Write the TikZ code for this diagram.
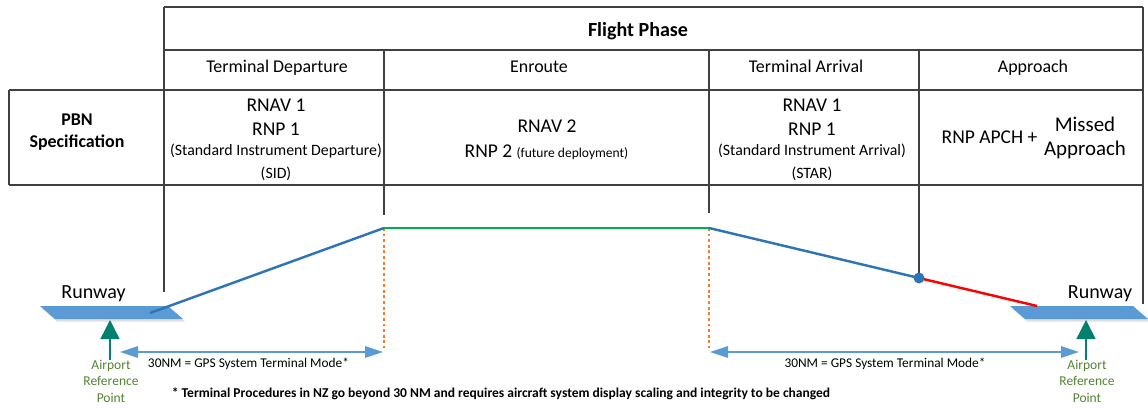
\documentclass[tikz,border=0pt]{standalone}
\usepackage{fontspec}
\setmainfont{Carlito}
\usepackage{tikz}
\usetikzlibrary{shadows,arrows.meta}

\definecolor{gridgray}{HTML}{404040}
\definecolor{pathblue}{HTML}{2E75B6}
\definecolor{pathgreen}{HTML}{00B050}
\definecolor{runwayblue}{HTML}{5B9BD5}
\definecolor{dotorange}{HTML}{ED7D31}
\definecolor{arpteal}{HTML}{00806E}
\definecolor{arpgreen}{HTML}{548235}

\begin{document}
\begin{tikzpicture}[
  txt/.style={inner sep=0pt, anchor=base},
  headtxt/.style={txt, font=\fontsize{10.2}{12}\selectfont},
  spectxt/.style={txt, font=\fontsize{11.1}{13}\selectfont},
  smalltxt/.style={txt, font=\fontsize{9}{11}\selectfont},
  grid/.style={gridgray, line width=0.8pt},
  leg/.style={line width=1.4pt},
  limit/.style={dotorange, line width=1.4pt, dash pattern=on 1.6pt off 1.6pt},
  span/.style={runwayblue, line width=0.85pt, {Triangle[length=0.36cm,width=0.23cm]}-{Triangle[length=0.36cm,width=0.23cm]}},
  arp/.style={arpteal, line width=0.85pt, -{Triangle[length=0.38cm,width=0.38cm]}},
  arptxt/.style={inner sep=0pt, anchor=north, align=center, text=arpgreen, font=\fontsize{7.7}{9.4}\selectfont},
  runway/.style={fill=runwayblue, drop shadow={shadow xshift=0.04cm, shadow yshift=-0.05cm, opacity=0.25}}
]
\useasboundingbox (0cm,0cm) rectangle (22.96cm,-8.14cm);

% table
\draw[grid] (3.28cm,-0.14cm) -- (22.86cm,-0.14cm);
\draw[grid] (3.28cm,-1cm) -- (22.86cm,-1cm);
\draw[grid] (0.18cm,-1.8cm) -- (22.86cm,-1.8cm);
\draw[grid] (0.18cm,-3.7cm) -- (22.86cm,-3.7cm);
\draw[grid] (0.18cm,-1.8cm) -- (0.18cm,-3.7cm);
\draw[grid] (3.28cm,-0.14cm) -- (3.28cm,-5.84cm);
\draw[grid] (7.68cm,-1cm) -- (7.68cm,-4.3cm);
\draw[grid] (14.18cm,-1cm) -- (14.18cm,-4.26cm);
\draw[grid] (18.38cm,-1cm) -- (18.38cm,-5.56cm);
\draw[grid] (22.86cm,-0.14cm) -- (22.86cm,-6.08cm);

\node[txt, font=\fontsize{11.4}{13}\selectfont\bfseries] (phase) at (12.76cm,-0.72cm) {Flight Phase};
\node[headtxt] (dephead) at (5.54cm,-1.44cm) {Terminal Departure};
\node[headtxt] (enrhead) at (10.78cm,-1.44cm) {Enroute};
\node[headtxt] (arrhead) at (16.12cm,-1.44cm) {Terminal Arrival};
\node[headtxt] (apphead) at (20.66cm,-1.44cm) {Approach};

\node[txt, font=\fontsize{10.2}{12}\selectfont\bfseries] (pbn1) at (1.54cm,-2.5cm) {PBN};
\node[txt, font=\fontsize{10.2}{12}\selectfont\bfseries] (pbn2) at (1.54cm,-2.94cm) {Specification};

\node[spectxt] (dep1) at (5.52cm,-2.22cm) {RNAV 1};
\node[spectxt] (dep2) at (5.52cm,-2.7cm) {RNP 1};
\node[smalltxt] (dep3) at (5.52cm,-3.1cm) {(Standard Instrument Departure)};
\node[smalltxt] (dep4) at (5.52cm,-3.56cm) {(SID)};

\node[spectxt] (enr1) at (10.94cm,-2.64cm) {RNAV 2};
\node[spectxt] (enr2) at (10.93cm,-3.14cm) {RNP 2 {\fontsize{7.7}{9}\selectfont (future deployment)}};

\node[spectxt] (arr1) at (16.24cm,-2.22cm) {RNAV 1};
\node[spectxt] (arr2) at (16.24cm,-2.7cm) {RNP 1};
\node[smalltxt] (arr3) at (16.24cm,-3.1cm) {(Standard Instrument Arrival)};
\node[smalltxt] (arr4) at (16.24cm,-3.56cm) {(STAR)};

\node[spectxt] (app1) at (19.79cm,-2.86cm) {RNP APCH +};
\node[txt, font=\fontsize{11.9}{14}\selectfont] (app2) at (21.7cm,-2.62cm) {Missed};
\node[txt, font=\fontsize{11.9}{14}\selectfont] (app3) at (21.7cm,-3.1cm) {Approach};

% runways
\path[runway] (0.8cm,-6.12cm) -- (3.36cm,-6.12cm) -- (3.66cm,-6.38cm) -- (1.1cm,-6.38cm) -- cycle;
\path[runway] (20.2cm,-6.12cm) -- (22.66cm,-6.12cm) -- (22.96cm,-6.38cm) -- (20.5cm,-6.38cm) -- cycle;
\node[txt, font=\fontsize{11.4}{13}\selectfont] (rwyLtxt) at (1.87cm,-5.96cm) {Runway};
\node[txt, font=\fontsize{11.4}{13}\selectfont] (rwyRtxt) at (22cm,-5.96cm) {Runway};

% flight path
\coordinate (rwyL) at (3cm,-6.26cm);
\coordinate (topL) at (7.68cm,-4.56cm);
\coordinate (topR) at (14.18cm,-4.56cm);
\coordinate (faf) at (18.38cm,-5.56cm);
\coordinate (rwyR) at (20.74cm,-6.12cm);
\draw[limit] (topL) -- (7.68cm,-6.96cm);
\draw[limit] (topR) -- (14.18cm,-6.96cm);
\draw[leg,pathblue] (rwyL) -- (topL);
\draw[leg,pathgreen] (topL) -- (topR);
\draw[leg,pathblue] (topR) -- (faf);
\draw[leg,red] (faf) -- (rwyR);
\fill[pathblue] (faf) circle (0.11cm);

% terminal mode spans
\coordinate (spanL1) at (2.4cm,-7.04cm);
\coordinate (spanL2) at (7.66cm,-7.04cm);
\coordinate (spanR1) at (14.2cm,-7.04cm);
\coordinate (spanR2) at (21.58cm,-7.04cm);
\draw[span] (spanL1) -- (spanL2);
\draw[span] (spanR1) -- (spanR2);
\node[txt, font=\fontsize{7.6}{9}\selectfont] (modeL) at (4.97cm,-7.34cm) {30NM = GPS System Terminal Mode*};
\node[txt, font=\fontsize{7.6}{9}\selectfont] (modeR) at (17.7cm,-7.34cm) {30NM = GPS System Terminal Mode*};

% airport reference points
\node[arptxt] (arpL) at (2.22cm,-7.19cm) {Airport\\Reference\\Point};
\node[arptxt] (arpR) at (21.74cm,-7.19cm) {Airport\\Reference\\Point};
\coordinate (arpLtip) at (2.2cm,-6.4cm);
\coordinate (arpRtip) at (21.72cm,-6.4cm);
\draw[arp] (arpL.north -| arpLtip) -- (arpLtip);
\draw[arp] (arpR.north -| arpRtip) -- (arpRtip);

\node[txt, font=\fontsize{7.7}{9}\selectfont\bfseries] (foot) at (10.02cm,-7.94cm) {* Terminal Procedures in NZ go beyond 30 NM and requires aircraft system display scaling and integrity to be changed};
\end{tikzpicture}
\end{document}
